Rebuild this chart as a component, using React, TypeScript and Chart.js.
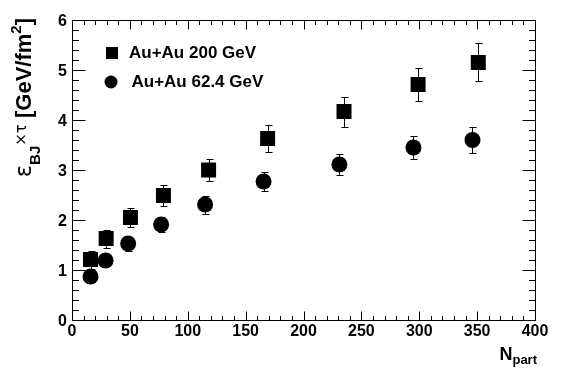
import React, { useEffect, useRef } from 'react';
import { Chart, registerables } from 'chart.js';

Chart.register(...registerables);

const FONT = '"Liberation Sans", Arial, Helvetica, sans-serif';
const SYMFONT = '"DejaVu Sans", "Liberation Sans", sans-serif';

// ---- data ----
const seriesLabels = ['Au+Au 200 GeV', 'Au+Au 62.4 GeV'];
const npart200 = [16, 29.5, 50.5, 79, 118, 169, 235, 299, 351];
const eps200 = [1.21, 1.63, 2.05, 2.49, 3.0, 3.63, 4.17, 4.71, 5.15];
const err200 = [0.18, 0.18, 0.19, 0.2, 0.22, 0.27, 0.3, 0.34, 0.38];
const npart62 = [16, 29, 48.5, 77, 115, 165.5, 231, 295, 346];
const eps62 = [0.87, 1.19, 1.53, 1.91, 2.31, 2.77, 3.11, 3.45, 3.6];
const err62 = [0.09, 0.11, 0.14, 0.15, 0.18, 0.19, 0.21, 0.23, 0.25];
const xRange = [0, 400];
const yRange = [0, 6];
const xStep = 50;
const yStep = 1;
const minorDivs = 5;
const yTitleParts = [
  { t: 'ε', font: `23px ${SYMFONT}`, dy: 0 },
  { t: 'BJ', font: `bold 15px ${FONT}`, dy: 9 },
  { t: '×τ', font: `15px ${SYMFONT}`, dy: -5 },
  { t: ' [GeV/fm', font: `bold 22px ${FONT}`, dy: 0 },
  { t: '2', font: `bold 15px ${FONT}`, dy: -10 },
  { t: ']', font: `bold 22px ${FONT}`, dy: 0 },
];
const xTitleMain = 'N';
const xTitleSub = 'part';

const errorBars = {
  id: 'errorBars',
  beforeDatasetsDraw(chart: any) {
    const { ctx, scales } = chart;
    const ys = scales.y;
    ctx.save();
    ctx.strokeStyle = '#000';
    ctx.lineWidth = 1;
    chart.data.datasets.forEach((ds: any, di: number) => {
      const meta = chart.getDatasetMeta(di);
      meta.data.forEach((pt: any, i: number) => {
        const v = ds.data[i].y;
        const e = ds.errors[i];
        const px = Math.round(pt.x) + 0.5;
        const top = Math.round(ys.getPixelForValue(v + e)) + 0.5;
        const bot = Math.round(ys.getPixelForValue(v - e)) + 0.5;
        ctx.beginPath();
        ctx.moveTo(px, top);
        ctx.lineTo(px, bot);
        ctx.moveTo(px - 3, top);
        ctx.lineTo(px + 4, top);
        ctx.moveTo(px - 3, bot);
        ctx.lineTo(px + 4, bot);
        ctx.stroke();
      });
    });
    ctx.restore();
  },
};

const rootFrame = {
  id: 'rootFrame',
  afterDraw(chart: any) {
    const { ctx, chartArea: a, scales } = chart;
    const xs = scales.x;
    const ys = scales.y;
    const L = Math.round(a.left) + 0.5;
    const R = Math.round(a.right) + 0.5;
    const T = Math.round(a.top) + 0.5;
    const B = Math.round(a.bottom) + 0.5;
    ctx.save();
    ctx.strokeStyle = '#000';
    ctx.lineWidth = 1;
    ctx.beginPath();
    ctx.rect(L, T, R - L, B - T);
    ctx.stroke();

    // ticks
    const xMaj = 9, xMin = 4.5, yMaj = 13, yMin = 6.5;
    ctx.beginPath();
    const xt = xs.ticks.map((t: any) => t.value);
    for (let i = 0; i < xt.length; i++) {
      for (let k = 0; k < minorDivs; k++) {
        const v = xt[i] + (k * xStep) / minorDivs;
        if (v > xRange[1] + 1e-9) break;
        if (i === xt.length - 1 && k > 0) break;
        const p = Math.round(xs.getPixelForValue(v)) + 0.5;
        const len = k === 0 ? xMaj : xMin;
        ctx.moveTo(p, B);
        ctx.lineTo(p, B - len);
        ctx.moveTo(p, T);
        ctx.lineTo(p, T + len);
      }
    }
    const yt = ys.ticks.map((t: any) => t.value);
    for (let i = 0; i < yt.length; i++) {
      for (let k = 0; k < minorDivs; k++) {
        const v = yt[i] + (k * yStep) / minorDivs;
        if (v > yRange[1] + 1e-9) break;
        if (i === yt.length - 1 && k > 0) break;
        const p = Math.round(ys.getPixelForValue(v)) + 0.5;
        const len = k === 0 ? yMaj : yMin;
        ctx.moveTo(L, p);
        ctx.lineTo(L + len, p);
        ctx.moveTo(R, p);
        ctx.lineTo(R - len, p);
      }
    }
    ctx.stroke();

    // legend
    ctx.fillStyle = '#000';
    ctx.textBaseline = 'middle';
    ctx.textAlign = 'left';
    ctx.font = `bold 17px ${FONT}`;
    const lx = a.left + 40;
    const ly1 = a.top + 33;
    const ly2 = a.top + 62;
    ctx.fillRect(lx - 6, ly1 - 6, 12, 12);
    ctx.fillText(seriesLabels[0], lx + 17, ly1);
    ctx.beginPath();
    ctx.arc(lx - 1, ly2, 6.5, 0, Math.PI * 2);
    ctx.fill();
    ctx.fillText(seriesLabels[1], lx + 19.5, ly2);

    // y title (rotated)
    ctx.textBaseline = 'alphabetic';
    let total = 0;
    const widths = yTitleParts.map((p) => {
      ctx.font = p.font;
      const w = ctx.measureText(p.t).width;
      total += w;
      return w;
    });
    ctx.save();
    ctx.translate(31, a.top - 2 + total);
    ctx.rotate(-Math.PI / 2);
    let off = 0;
    yTitleParts.forEach((p, i) => {
      ctx.font = p.font;
      ctx.fillText(p.t, off, p.dy);
      off += widths[i];
    });
    ctx.restore();

    // x title
    ctx.font = `bold 18px ${FONT}`;
    const wN = ctx.measureText(xTitleMain).width;
    ctx.font = `bold 13px ${FONT}`;
    const wS = ctx.measureText(xTitleSub).width;
    const xEnd = a.right + 2;
    ctx.font = `bold 18px ${FONT}`;
    ctx.fillText(xTitleMain, xEnd - wS - wN, a.bottom + 40);
    ctx.font = `bold 13px ${FONT}`;
    ctx.fillText(xTitleSub, xEnd - wS, a.bottom + 44);
    ctx.restore();
  },
};

export default function App() {
  const ref = useRef<HTMLCanvasElement | null>(null);
  useEffect(() => {
    if (!ref.current) return;
    const chart = new Chart(ref.current, {
      type: 'scatter',
      data: {
        datasets: [
          {
            label: seriesLabels[0],
            data: npart200.map((x, i) => ({ x, y: eps200[i] })),
            errors: err200,
            pointStyle: 'rect',
            pointRadius: 10.6,
            backgroundColor: '#000',
            borderWidth: 0,
          } as any,
          {
            label: seriesLabels[1],
            data: npart62.map((x, i) => ({ x, y: eps62[i] })),
            errors: err62,
            pointStyle: 'circle',
            pointRadius: 8,
            backgroundColor: '#000',
            borderWidth: 0,
          } as any,
        ],
      },
      options: {
        animation: false,
        responsive: false,
        devicePixelRatio: 1,
        layout: { padding: { top: 20, right: 29, left: 0, bottom: 0 } },
        plugins: { legend: { display: false }, tooltip: { enabled: false } },
        scales: {
          x: {
            type: 'linear',
            min: xRange[0],
            max: xRange[1],
            grid: { display: false, drawTicks: false },
            border: { display: false },
            ticks: {
              stepSize: xStep,
              color: '#000',
              padding: 2,
              maxRotation: 0,
              font: { family: FONT, size: 16, weight: 'bold' },
            },
            afterFit: (s: any) => {
              s.height = 57;
            },
          },
          y: {
            type: 'linear',
            min: yRange[0],
            max: yRange[1],
            grid: { display: false, drawTicks: false },
            border: { display: false },
            ticks: {
              stepSize: yStep,
              color: '#000',
              padding: 5,
              labelOffset: 2,
              font: { family: FONT, size: 16, weight: 'bold' },
            },
            afterFit: (s: any) => {
              s.width = 72;
            },
          },
        },
      } as any,
      plugins: [errorBars, rootFrame],
    });
    return () => chart.destroy();
  }, []);
  return (
    <div style={{ position: 'fixed', left: 0, top: 0, width: 564, height: 377, background: '#fff' }}>
      <canvas ref={ref} width={564} height={377} style={{ display: 'block' }} />
    </div>
  );
}
